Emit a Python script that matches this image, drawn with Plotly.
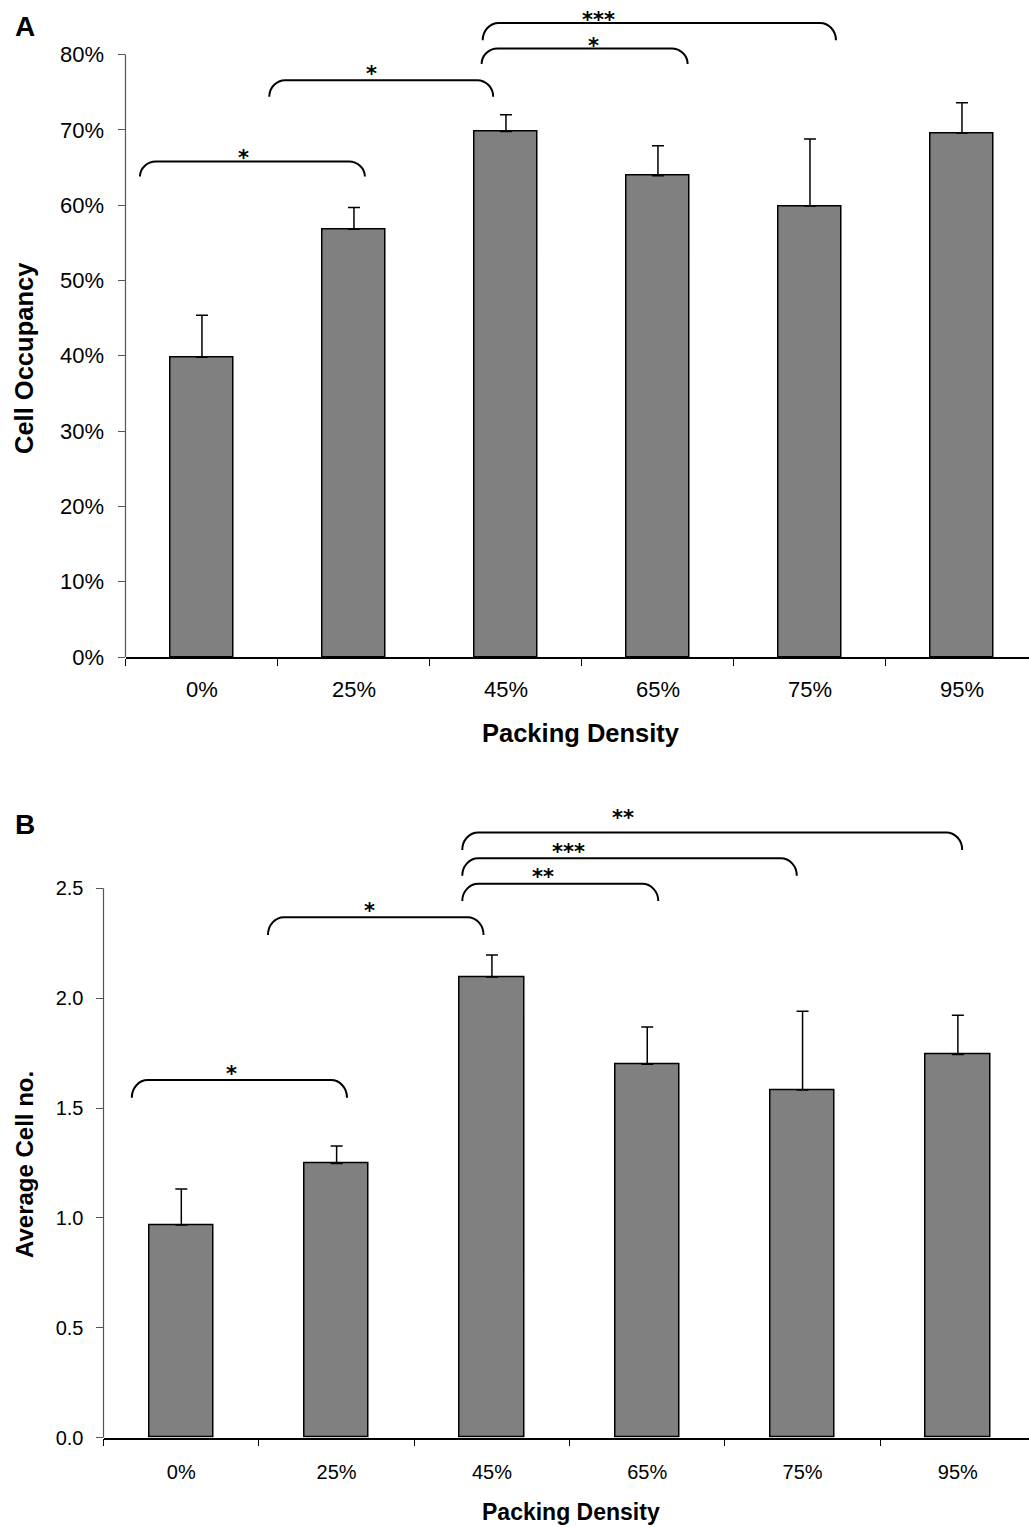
import plotly.graph_objects as go

# ---- data -------------------------------------------------------------
categories = ["0%", "25%", "45%", "65%", "75%", "95%"]

# Panel A: cell occupancy (%), mean and upper SD
occupancy_mean = [39.8, 56.8, 69.8, 63.9, 59.9, 69.6]
occupancy_err = [5.6, 2.9, 2.2, 4.0, 8.9, 4.0]

# Panel B: average cell number, mean and upper SD
cellno_mean = [0.968, 1.247, 2.096, 1.699, 1.582, 1.744]
cellno_err = [0.163, 0.080, 0.100, 0.170, 0.358, 0.178]

# significance brackets (category-index units horizontally, data units vertically)
A_br_left = [-0.408, 0.443, 1.840, 1.847]
A_br_right = [1.072, 1.916, 3.195, 4.171]
A_br_top = [65.8, 76.6, 80.8, 84.2]
A_br_bottom = [63.8, 74.4, 78.75, 81.9]
A_br_text = ["*", "*", "*", "***"]
A_br_text_x = [0.276, 1.118, 2.579, 2.612]
A_br_text_y = [66.7, 77.8, 81.6, 85.0]

B_br_left = [-0.319, 0.558, 1.809, 1.809, 1.809]
B_br_right = [1.067, 1.946, 3.071, 3.963, 5.028]
B_br_top = [1.627, 2.368, 2.520, 2.636, 2.754]
B_br_bottom = [1.547, 2.287, 2.442, 2.557, 2.674]
B_br_text = ["*", "*", "**", "***", "**"]
B_br_text_x = [0.325, 1.209, 2.326, 2.495, 2.844]
B_br_text_y = [1.670, 2.410, 2.564, 2.678, 2.833]

A_yticks = [0, 10, 20, 30, 40, 50, 60, 70, 80]
B_yticks = [0.0, 0.5, 1.0, 1.5, 2.0, 2.5]

# ---- geometry ---------------------------------------------------------
W, H = 1029, 1527
FONT = "Arial, Liberation Sans, sans-serif"
STAR_FONT = "DejaVu Sans, sans-serif"

def py(p):
    """pixel row -> paper y"""
    return 1 - p / H

def px(p):
    return p / W

A_xdom = [px(125.5), 1.0]
A_ydom = [py(657), py(9.4)]
A_xrange = [-0.503, 5.441]
A_yrange = [0, 86]

B_xdom = [px(103.5), 1.0]
B_ydom = [py(1437.7), py(800.3)]
B_xrange = [-0.501, 5.458]
B_yrange = [0, 2.9]

BAR_W = 0.414
BAR_FILL = "#808080"
CORNER_PX = 16

fig = go.Figure()

def add_panel(means, errs, xa, ya):
    idx = list(range(len(categories)))
    fig.add_trace(go.Bar(
        x=idx, y=means, width=BAR_W,
        marker=dict(color=BAR_FILL, line=dict(color="black", width=1.5)),
        error_y=dict(type="data", symmetric=False, array=errs,
                     arrayminus=[0] * len(errs), color="black",
                     thickness=1.5, width=6),
        xaxis=xa, yaxis=ya, showlegend=False, hoverinfo="skip",
    ))

add_panel(occupancy_mean, occupancy_err, "x", "y")
add_panel(cellno_mean, cellno_err, "x2", "y2")

def bracket_path(x0, x1, yt, yb, rx):
    k = 0.552
    h = yt - yb
    return (f"M {x0},{yb} C {x0},{yb + k * h} {x0 + rx * (1 - k)},{yt} {x0 + rx},{yt} "
            f"L {x1 - rx},{yt} C {x1 - rx * (1 - k)},{yt} {x1},{yb + k * h} {x1},{yb}")

def add_brackets(lefts, rights, tops, bottoms, texts, tx, ty, xref, yref, xdom, xrange):
    width_px = (xdom[1] - xdom[0]) * W
    rx = CORNER_PX * (xrange[1] - xrange[0]) / width_px
    for l, r, t, b, s, lx, ly in zip(lefts, rights, tops, bottoms, texts, tx, ty):
        fig.add_shape(type="path", path=bracket_path(l, r, t, b, rx),
                      xref=xref, yref=yref, line=dict(color="black", width=2))
        fig.add_annotation(x=lx, y=ly, xref=xref, yref=yref, text=f"<b>{s}</b>",
                           showarrow=False, yanchor="middle", xanchor="center",
                           valign="middle", height=20, yshift=-3,
                           font=dict(family=STAR_FONT, size=21, color="black"))

add_brackets(A_br_left, A_br_right, A_br_top, A_br_bottom, A_br_text,
             A_br_text_x, A_br_text_y, "x", "y", A_xdom, A_xrange)
add_brackets(B_br_left, B_br_right, B_br_top, B_br_bottom, B_br_text,
             B_br_text_x, B_br_text_y, "x2", "y2", B_xdom, B_xrange)

# value axis lines stop at the top tick
fig.add_shape(type="line", xref="paper", yref="y", x0=A_xdom[0], x1=A_xdom[0],
              y0=A_yticks[0], y1=A_yticks[-1], line=dict(color="#555555", width=1.2))
fig.add_shape(type="line", xref="paper", yref="y2", x0=B_xdom[0], x1=B_xdom[0],
              y0=B_yticks[0], y1=B_yticks[-1], line=dict(color="#555555", width=1.2))

def xaxis_cfg(dom, rng, size, standoff):
    return dict(domain=dom, range=rng, showgrid=False, zeroline=False, automargin=False,
                showline=True, linecolor="black", linewidth=1.5,
                tickmode="array", tickvals=list(range(len(categories))),
                ticktext=categories, ticks="", ticklabelstandoff=standoff,
                tickfont=dict(family=FONT, size=size, color="black"),
                minor=dict(tickmode="array",
                           tickvals=[i - 0.5 for i in range(len(categories) + 1)],
                           ticks="outside", ticklen=7, tickwidth=1.2, tickcolor="black"),
                fixedrange=True)

def yaxis_cfg(dom, rng, anchor, vals, text, size, standoff):
    return dict(domain=dom, range=rng, anchor=anchor, showgrid=False, zeroline=False,
                automargin=False, showline=False, tickmode="array", tickvals=vals,
                ticktext=text, ticks="outside", ticklen=7, tickwidth=1.2,
                tickcolor="#555555", ticklabelstandoff=standoff,
                tickfont=dict(family=FONT, size=size, color="black"), fixedrange=True)

fig.update_layout(
    width=W, height=H, margin=dict(l=0, r=0, t=0, b=0, autoexpand=False),
    paper_bgcolor="white", plot_bgcolor="white", bargap=0,
    xaxis=xaxis_cfg(A_xdom, A_xrange, 22, 12) | dict(anchor="y"),
    yaxis=yaxis_cfg(A_ydom, A_yrange, "x", A_yticks,
                    [f"{v}%" for v in A_yticks], 22, 9),
    xaxis2=xaxis_cfg(B_xdom, B_xrange, 20, 16) | dict(anchor="y2"),
    yaxis2=yaxis_cfg(B_ydom, B_yrange, "x2", B_yticks,
                     [f"{v:.1f}" for v in B_yticks], 20, 8),
)

def label(text, x, y, size, angle=0, xanchor="center"):
    fig.add_annotation(text=f"<b>{text}</b>", x=px(x), y=py(y), xref="paper", yref="paper",
                       showarrow=False, textangle=angle, xanchor=xanchor, yanchor="middle",
                       font=dict(family=FONT, size=size, color="black"))

label("A", 13, 26, 28, xanchor="left")
label("B", 13, 825, 28, xanchor="left")
label("Cell Occupancy", 24, 358, 25.5, angle=-90)
label("Packing Density", 581, 733, 25.5)
label("Average Cell no.", 24, 1165, 24, angle=-90)
label("Packing Density", 571, 1512, 23)

fig.write_html("out.html")
